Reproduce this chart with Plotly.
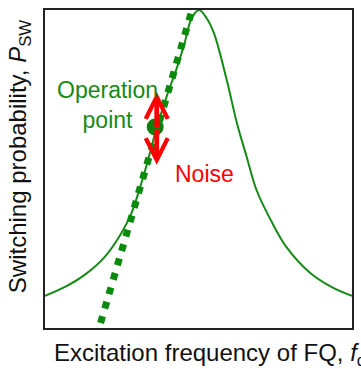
import plotly.graph_objects as go

# Resonance curve of the switching probability (normalized frequency, probability)
freq = [0.0, 0.065, 0.129, 0.194, 0.249, 0.282, 0.307, 0.333, 0.362, 0.398,
        0.427, 0.453, 0.478, 0.502, 0.526, 0.550, 0.592, 0.625, 0.657, 0.689,
        0.735, 0.786, 0.864, 0.939, 1.0]
p_sw = [0.101, 0.129, 0.167, 0.223, 0.299, 0.362, 0.434, 0.519, 0.623, 0.733,
        0.811, 0.890, 0.975, 1.0, 0.975, 0.928, 0.780, 0.645, 0.538, 0.434,
        0.340, 0.255, 0.173, 0.126, 0.101]

# Tangent line at the operation point
tangent_x = [0.181, 0.479]
tangent_y = [0.016, 1.0]

# Operation point and noise excursion
op_x = [0.359]
op_y = [0.632]
noise_x = 0.364
noise_top = 0.742
noise_bottom = 0.513
noise_mid = (noise_top + noise_bottom) / 2

GREEN = "#168a16"
DOT_GREEN = "#0a8a0a"
RED = "#ff0000"
FONT = "Liberation Sans, Arial, sans-serif"

fig = go.Figure()

fig.add_trace(go.Scatter(
    x=freq, y=p_sw, mode="lines",
    line=dict(color=GREEN, width=2, shape="spline", smoothing=1.0),
    hoverinfo="skip",
))

fig.add_trace(go.Scatter(
    x=tangent_x, y=tangent_y, mode="lines",
    line=dict(color=DOT_GREEN, width=7, dash="7px,8px"),
    hoverinfo="skip",
))

fig.add_trace(go.Scatter(
    x=op_x, y=op_y, mode="markers",
    marker=dict(color="#0e7f0e", size=17, line=dict(width=0)),
    hoverinfo="skip",
))


def noise_arrow(tip):
    # one half of the double-headed arrow, drawn from the middle outwards
    return dict(x=noise_x, y=tip, ax=noise_x, ay=noise_mid,
                xref="x", yref="y", axref="x", ayref="y",
                text="", showarrow=True, arrowhead=5, arrowsize=0.9,
                arrowwidth=4.8, arrowcolor=RED)


annotations = [
    noise_arrow(noise_top),
    noise_arrow(noise_bottom),
    dict(x=0.202, y=0.70, xref="x", yref="y", text="Operation<br>point",
         showarrow=False, font=dict(family=FONT, size=23, color=GREEN),
         align="center", xanchor="center", yanchor="middle"),
    dict(x=0.518, y=0.483, xref="x", yref="y", text="Noise",
         showarrow=False, font=dict(family=FONT, size=23, color=RED),
         xanchor="center", yanchor="middle"),
    # axis titles
    dict(x=0.0227, y=-0.082, xref="paper", yref="paper",
         text="Excitation frequency of FQ, <i>f</i><sub>q</sub>",
         showarrow=False, font=dict(family=FONT, size=24, color="#111111"),
         xanchor="left", yanchor="middle"),
    dict(x=-0.085, y=0.54, xref="paper", yref="paper",
         text="Switching probability, <i>P</i><sub>SW</sub>",
         showarrow=False, textangle=-90,
         font=dict(family=FONT, size=24, color="#111111"),
         xanchor="center", yanchor="middle"),
]

fig.update_layout(
    width=361, height=369,
    margin=dict(l=45, r=7, t=10, b=41),
    paper_bgcolor="white", plot_bgcolor="white",
    showlegend=False,
    annotations=annotations,
    xaxis=dict(range=[0, 1], showgrid=False, zeroline=False, showticklabels=False,
               ticks="", showline=True, mirror=True, linecolor="#222222", linewidth=2,
               fixedrange=True),
    yaxis=dict(range=[0, 1], showgrid=False, zeroline=False, showticklabels=False,
               ticks="", showline=True, mirror=True, linecolor="#222222", linewidth=2,
               fixedrange=True),
)

fig.write_html("out.html", config={"displayModeBar": False})
